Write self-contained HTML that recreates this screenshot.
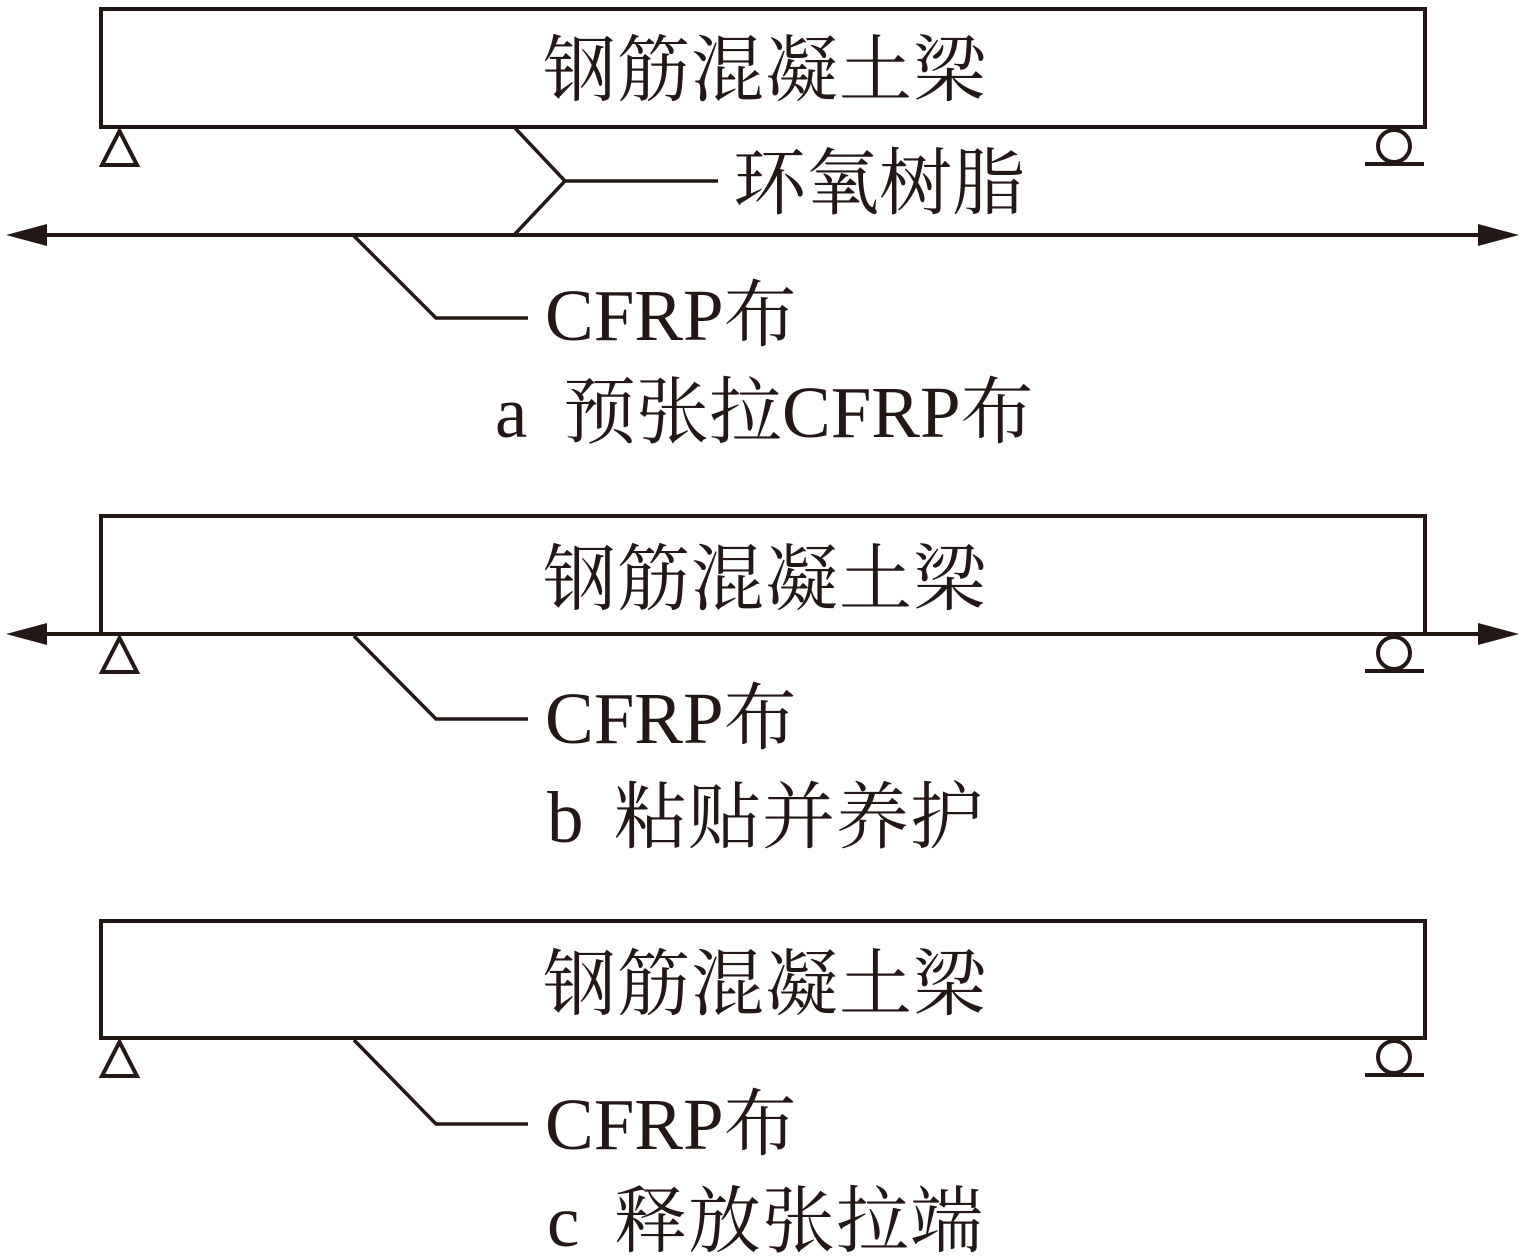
<!DOCTYPE html>
<html>
<head>
<meta charset="utf-8">
<style>
  html, body { margin: 0; padding: 0; background: #ffffff; }
  svg { display: block; }
  text { font-family: "Liberation Serif", "Noto Serif CJK SC", serif; fill: #231815; }
</style>
</head>
<body>
<svg width="1525" height="1258" viewBox="0 0 1525 1258" xmlns="http://www.w3.org/2000/svg">
  <g stroke="#231815" stroke-width="4" fill="none">
    <!-- ===== a ===== -->
    <rect x="101" y="9" width="1324" height="118"/>
    <polygon points="119.5,131 102,165 137,165" stroke-linejoin="miter"/>
    <circle cx="1394" cy="146" r="16"/>
    <line x1="1365" y1="164" x2="1424" y2="164"/>
    <line x1="40" y1="235" x2="1482" y2="235"/>
    <polyline points="515,128 565,181 515,234" stroke-width="3.5"/>
    <line x1="565" y1="181" x2="718" y2="181" stroke-width="3.5"/>
    <polyline points="354,236 436,318 528,318" stroke-width="3.5"/>

    <!-- ===== b ===== -->
    <rect x="101" y="516" width="1324" height="118"/>
    <polygon points="119.5,638 102,672 137,672" stroke-linejoin="miter"/>
    <circle cx="1394" cy="653" r="16"/>
    <line x1="1365" y1="671" x2="1424" y2="671"/>
    <line x1="40" y1="634" x2="1482" y2="634"/>
    <polyline points="354,636 436,719 528,719" stroke-width="3.5"/>

    <!-- ===== c ===== -->
    <rect x="101" y="921" width="1324" height="117"/>
    <polygon points="119.5,1042 102,1076 137,1076" stroke-linejoin="miter"/>
    <circle cx="1394" cy="1057" r="16"/>
    <line x1="1365" y1="1075" x2="1424" y2="1075"/>
    <polyline points="354,1040 436,1124 528,1124" stroke-width="3.5"/>
  </g>

  <g fill="#231815">
    <polygon points="6,235 47,224 47,246"/>
    <polygon points="1519,235 1478,224 1478,246"/>
    <polygon points="6,634 47,623 47,645"/>
    <polygon points="1519,634 1478,623 1478,645"/>
  </g>

  <!-- ===== texts a ===== -->
  <text x="765" y="95" font-size="73" text-anchor="middle" letter-spacing="1">钢筋混凝土梁</text>
  <text x="733" y="208" font-size="73">环氧树脂</text>
  <text x="545" y="340" font-size="73">CFRP布</text>
  <text x="495" y="437" font-size="73">a</text>
  <text x="563" y="437" font-size="73">预张拉CFRP布</text>

  <!-- ===== texts b ===== -->
  <text x="765" y="604" font-size="73" text-anchor="middle" letter-spacing="1">钢筋混凝土梁</text>
  <text x="545" y="743" font-size="73">CFRP布</text>
  <text x="547" y="842" font-size="73">b</text>
  <text x="614" y="842" font-size="73" letter-spacing="1">粘贴并养护</text>

  <!-- ===== texts c ===== -->
  <text x="765" y="1009" font-size="73" text-anchor="middle" letter-spacing="1">钢筋混凝土梁</text>
  <text x="545" y="1149" font-size="73">CFRP布</text>
  <text x="547" y="1246" font-size="73">c</text>
  <text x="614" y="1246" font-size="73" letter-spacing="1">释放张拉端</text>
</svg>
</body>
</html>
